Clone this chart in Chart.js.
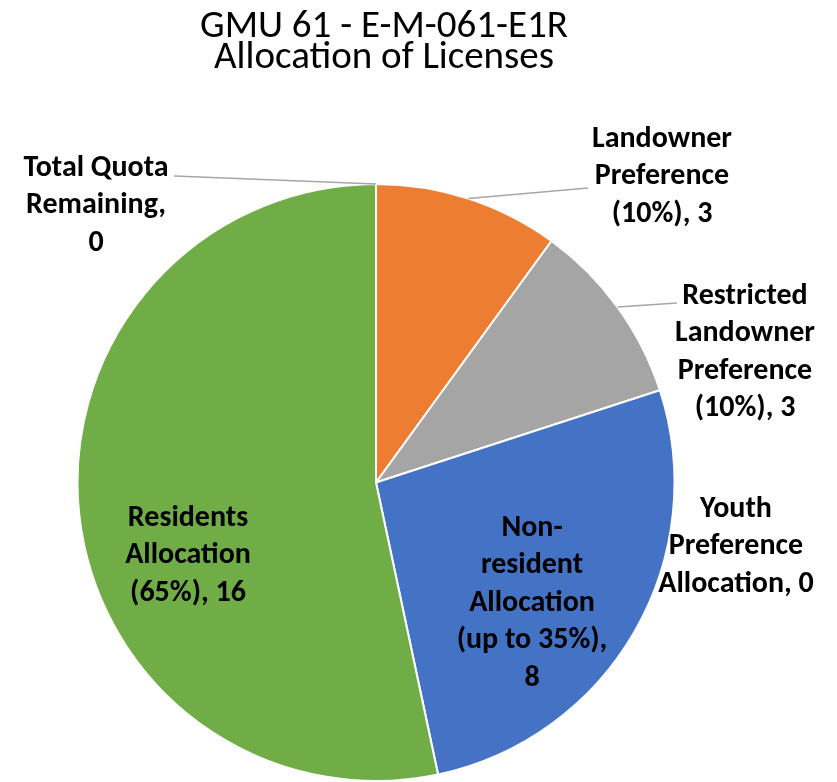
<!doctype html>
<html lang="en">
<head>
    <meta charset="UTF-8">
    <title>GMU 61 - E-M-061-E1R Allocation of Licenses</title>
    <script src="https://cdn.jsdelivr.net/npm/chart.js"></script>
    <style>
        html, body { margin: 0; padding: 0; background: #fff; }
        canvas { display: block; }
    </style>
</head>
<body>
    <canvas id="grafico1" width="837" height="782"></canvas>

    <script>
        // data
        const titleLines = ['GMU 61 - E-M-061-E1R', 'Allocation of Licenses'];
        const categories = [
            'Landowner Preference (10%)',
            'Restricted Landowner Preference (10%)',
            'Youth Preference Allocation',
            'Non-resident Allocation (up to 35%)',
            'Residents Allocation (65%)',
            'Total Quota Remaining'
        ];
        const licenses = [3, 3, 0, 8, 16, 0];
        const sliceColors = ['#ED7D31', '#A5A5A5', '#FFC000', '#4472C4', '#70AD47', '#5B9BD5'];

        // how each label is broken into lines, and where it sits
        const labelLines = [
            ['Landowner', 'Preference', '(10%), 3'],
            ['Restricted', 'Landowner', 'Preference', '(10%), 3'],
            ['Youth', 'Preference', 'Allocation, 0'],
            ['Non-', 'resident', 'Allocation', '(up to 35%),', '8'],
            ['Residents', 'Allocation', '(65%), 16'],
            ['Total Quota', 'Remaining,', '0']
        ];
        const labelPos = [
            { x: 662, y: 139, line: { x: 588, y: 188 } },
            { x: 745, y: 296, line: { x: 677, y: 303 } },
            { x: 736, y: 509 },
            { x: 532, y: 528 },
            { x: 188, y: 518 },
            { x: 96, y: 168, line: { x: 174, y: 176 } }
        ];

        const ctx = document.getElementById('grafico1');
        const lineH = 37.5;

        const textPlugin = {
            id: 'textPlugin',
            afterDraw(chart) {
                const c = chart.ctx;
                c.save();
                // title
                c.fillStyle = '#000';
                c.textAlign = 'center';
                c.textBaseline = 'middle';
                c.font = '39px Carlito, "Open Sans", sans-serif';
                titleLines.forEach((t, i) => c.fillText(t, 384, 27 + i * 31));

                const arcs = chart.getDatasetMeta(0).data;
                c.font = 'bold 30px Carlito, "Open Sans", sans-serif';
                labelLines.forEach((lines, i) => {
                    const p = labelPos[i];
                    if (p.line) {
                        const a = arcs[i];
                        const mid = (a.startAngle + a.endAngle) / 2;
                        c.strokeStyle = '#A6A6A6';
                        c.lineWidth = 1.5;
                        c.beginPath();
                        c.moveTo(a.x + Math.cos(mid) * a.outerRadius, a.y + Math.sin(mid) * a.outerRadius);
                        c.lineTo(p.line.x, p.line.y);
                        c.stroke();
                    }
                    c.fillStyle = '#000';
                    lines.forEach((t, j) => c.fillText(t, p.x, p.y + j * lineH));
                });
                c.restore();
            }
        };

        new Chart(ctx, {
            type: 'pie',
            data: {
                labels: categories,
                datasets: [{
                    data: licenses,
                    backgroundColor: sliceColors,
                    borderColor: '#fff',
                    borderWidth: 2
                }]
            },
            options: {
                responsive: false,
                animation: false,
                layout: { padding: { top: 183, left: 76, right: 161, bottom: 0 } },
                plugins: {
                    legend: { display: false },
                    tooltip: { enabled: false }
                }
            },
            plugins: [textPlugin]
        });
    </script>
</body>
</html>
